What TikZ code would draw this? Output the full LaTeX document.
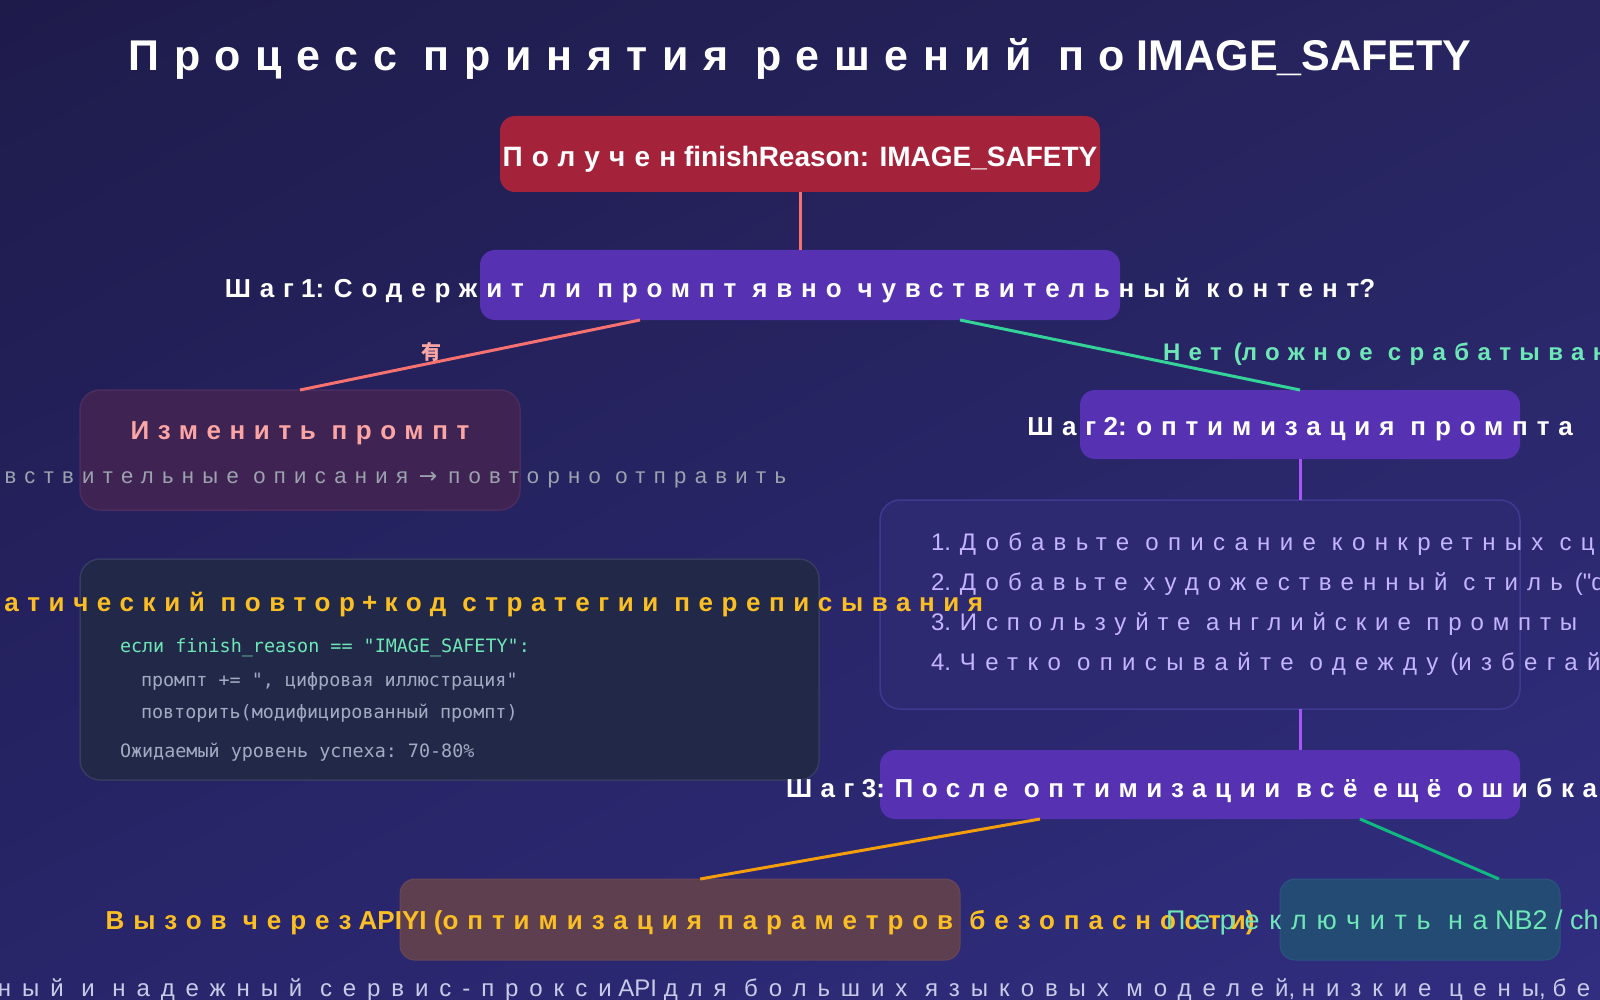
\documentclass[tikz,border=0pt]{standalone}
\usepackage{fontspec}
\setmainfont{Liberation Sans}
\setmonofont{DejaVu Sans Mono}
\newfontfamily\cjkfont{Noto Sans CJK SC}
\newfontfamily\djv{DejaVu Sans}
\newfontfamily\lib{Liberation Sans}
\usetikzlibrary{calc,shadings}
\newcommand\cy[2][33]{{\addfontfeature{LetterSpace=#1}#2}}
\newcommand\fs[1]{\fontsize{#1}{#1}\selectfont}
\newcommand\ws{\hspace{0.5em}}
\definecolor{bgA}{HTML}{1E1B4B}
\definecolor{bgB}{HTML}{27245F}
\definecolor{bgD}{HTML}{28256A}
\definecolor{bgC}{HTML}{312E81}
\definecolor{redbox}{HTML}{A4233A}
\definecolor{stepbox}{HTML}{5632B2}
\definecolor{modbox}{HTML}{3F2352}
\definecolor{modborder}{HTML}{4B2C60}
\definecolor{codebox}{HTML}{222948}
\definecolor{codeborder}{HTML}{353C5F}
\definecolor{tipbox}{HTML}{2E2A72}
\definecolor{tipborder}{HTML}{3D3A90}
\definecolor{apibox}{HTML}{5E3F50}
\definecolor{apiborder}{HTML}{694658}
\definecolor{nbbox}{HTML}{234B73}
\definecolor{nbborder}{HTML}{2B5580}
\definecolor{lnred}{HTML}{F87171}
\definecolor{lngreen}{HTML}{34D399}
\definecolor{lnpurple}{HTML}{A855F7}
\definecolor{lnorange}{HTML}{F59E0B}
\definecolor{lngreenb}{HTML}{10B981}
\definecolor{txpink}{HTML}{FCA5A5}
\definecolor{txgray}{HTML}{9CA3AF}
\definecolor{txorange}{HTML}{FBBF24}
\definecolor{txgreen}{HTML}{6EE7B7}
\definecolor{txlav}{HTML}{C4B5FD}
\definecolor{txcode}{HTML}{A3ABC2}
\definecolor{txfoot}{HTML}{C8CBE8}
\tikzset{
  box/.style={rectangle, rounded corners=#1, inner sep=0pt, outer sep=0pt},
  box/.default=15pt,
  conn/.style={line width=3pt},
  txt/.style={inner sep=0pt, outer sep=0pt},
  head/.style={txt, font=\bfseries\fs{26}},
  codeline/.style={txt, anchor=west, font=\ttfamily\fs{18.4}, text=txcode},
  tipline/.style={txt, anchor=west, font=\fs{24}, text=txlav},
}
\begin{document}
\begin{tikzpicture}[x=1pt,y=-1pt]
\useasboundingbox (0,0) rectangle (1600,1000);
\clip (0,0) rectangle (1600,1000);
\shade[upper left=bgA, upper right=bgB, lower left=bgD, lower right=bgC] (0,0) rectangle (1600,1000);

% boxes
\node[box, fill=redbox, minimum width=600, minimum height=76] (recv) at (800,154) {};
\node[box, fill=stepbox, minimum width=640, minimum height=70] (s1) at (800,285) {};
\node[box=20pt, fill=modbox, draw=modborder, line width=1.5pt, minimum width=440, minimum height=120] (mod) at (300,450) {};
\node[box, fill=stepbox, minimum width=440, minimum height=69] (s2) at (1300,424.5) {};
\node[box=20pt, fill=tipbox, draw=tipborder, line width=1.5pt, minimum width=640, minimum height=209] (tips) at (1200,604.5) {};
\node[box=20pt, fill=codebox, draw=codeborder, line width=1.5pt, minimum width=739, minimum height=221] (code) at (449.5,669.5) {};
\node[box, fill=stepbox, minimum width=640, minimum height=69] (s3) at (1200,784.5) {};
\node[box, fill=apibox, draw=apiborder, line width=1pt, minimum width=560, minimum height=81] (api) at (680,919.5) {};
\node[box, fill=nbbox, draw=nbborder, line width=1pt, minimum width=280, minimum height=81] (nb) at (1420,919.5) {};

% connectors
\draw[conn, lnred] (recv.south) -- (s1.north);
\draw[conn, lnred] ($(s1.south west)!0.25!(s1.south east)$) -- (mod.north);
\draw[conn, lngreen] ($(s1.south west)!0.75!(s1.south east)$) -- (s2.north);
\draw[conn, lnpurple] (s2.south) -- (s2.south |- tips.north);
\draw[conn, lnpurple] (s2.south |- tips.south) -- (s2.south |- s3.north);
\draw[conn, lnorange] ($(s3.south west)!0.25!(s3.south east)$) -- ($(api.north west)!0.536!(api.north east)$);
\draw[conn, lngreenb] ($(s3.south west)!0.75!(s3.south east)$) -- ($(nb.north west)!0.782!(nb.north east)$);

% texts
\node[txt, text=white, font=\bfseries\fs{43}] (title) at (800,59) {\cy[34]{Процесс принятия решений по} IMAGE\_SAFETY};
\node[head, text=white, font=\bfseries\fs{28}] (recvt) at (800,159) {\cy{Получен} finishReason: IMAGE\_SAFETY};
\node[head, text=white] (s1t) at (800,290.5) {\cy[34]{Шаг} 1: \cy[34]{Содержит ли промпт явно чувствительный контент}?};
\node[txt, text=txpink, font=\cjkfont\bfseries\fs{20}] (yes) at (431,352) {有};
\node[head, anchor=west, text=txgreen, font=\bfseries\fs{24}] (no) at (1163,354.5) {\cy[35]{Нет}\ws(\cy[35]{ложное срабатыван}};
\node[head, text=txpink] (modt) at (300,433.5) {\cy{Изменить промпт}};
\node[txt, anchor=east, text=txgray, font=\fs{22}] (mods) at (786,479.5) {\cy[38]{вствительные описания}\ws{\djv →}\ws\cy[38]{повторно отправить}};
\node[head, text=white] (s2t) at (1300,429.5) {\cy[34]{Шаг} 2: \cy[34]{оптимизация промпта}};
\node[tipline] (tip1) at (931,544.5) {1. \cy[39]{Добавьте описание конкретных сц}};
\node[tipline] (tip2) at (931,584.5) {2. \cy[38]{Добавьте художественный стиль}\ws({\lib "}d};
\node[tipline] (tip3) at (931,624.5) {3. \cy[37]{Используйте английские промпты}};
\node[tipline] (tip4) at (931,664.5) {4. \cy[39]{Четко описывайте одежду}\ws(\cy[39]{избегай}};
\node[head, anchor=east, text=txorange] (codet) at (983,604.5) {\cy{атический повтор} + \cy{код стратегии переписывания}};
\node[codeline, text=txgreen] (c1) at (120,648) {если finish\_reason == "IMAGE\_SAFETY":};
\node[codeline] (c2) at (141,681) {промпт += ", цифровая иллюстрация"};
\node[codeline] (c3) at (141,713) {повторить(модифицированный промпт)};
\node[codeline] (c4) at (120,752) {Ожидаемый уровень успеха: 70-80\%};
\node[head, anchor=west, text=white] (s3t) at (786,791) {\cy{Шаг} 3: \cy{После оптимизации всё ещё ошибка}};
\node[head, text=txorange] (apit) at (680,923) {\cy[34.5]{Вызов через} APIYI (\cy[34.5]{оптимизация параметров безопасности})};
\node[head, anchor=west, text=txgreen, font=\fs{27}] (nbt) at (1166,923) {\cy[36]{Переключить на} NB2 / ch};
\node[txt, anchor=west, text=txfoot, font=\fs{24}] (foot) at (-2,990) {\cy[45.5]{ный и надежный сервис-прокси} API \cy[45.5]{для больших языковых моделей}, \cy[45.5]{низкие цены}, \cy[45.5]{бе}};
\end{tikzpicture}
\end{document}
